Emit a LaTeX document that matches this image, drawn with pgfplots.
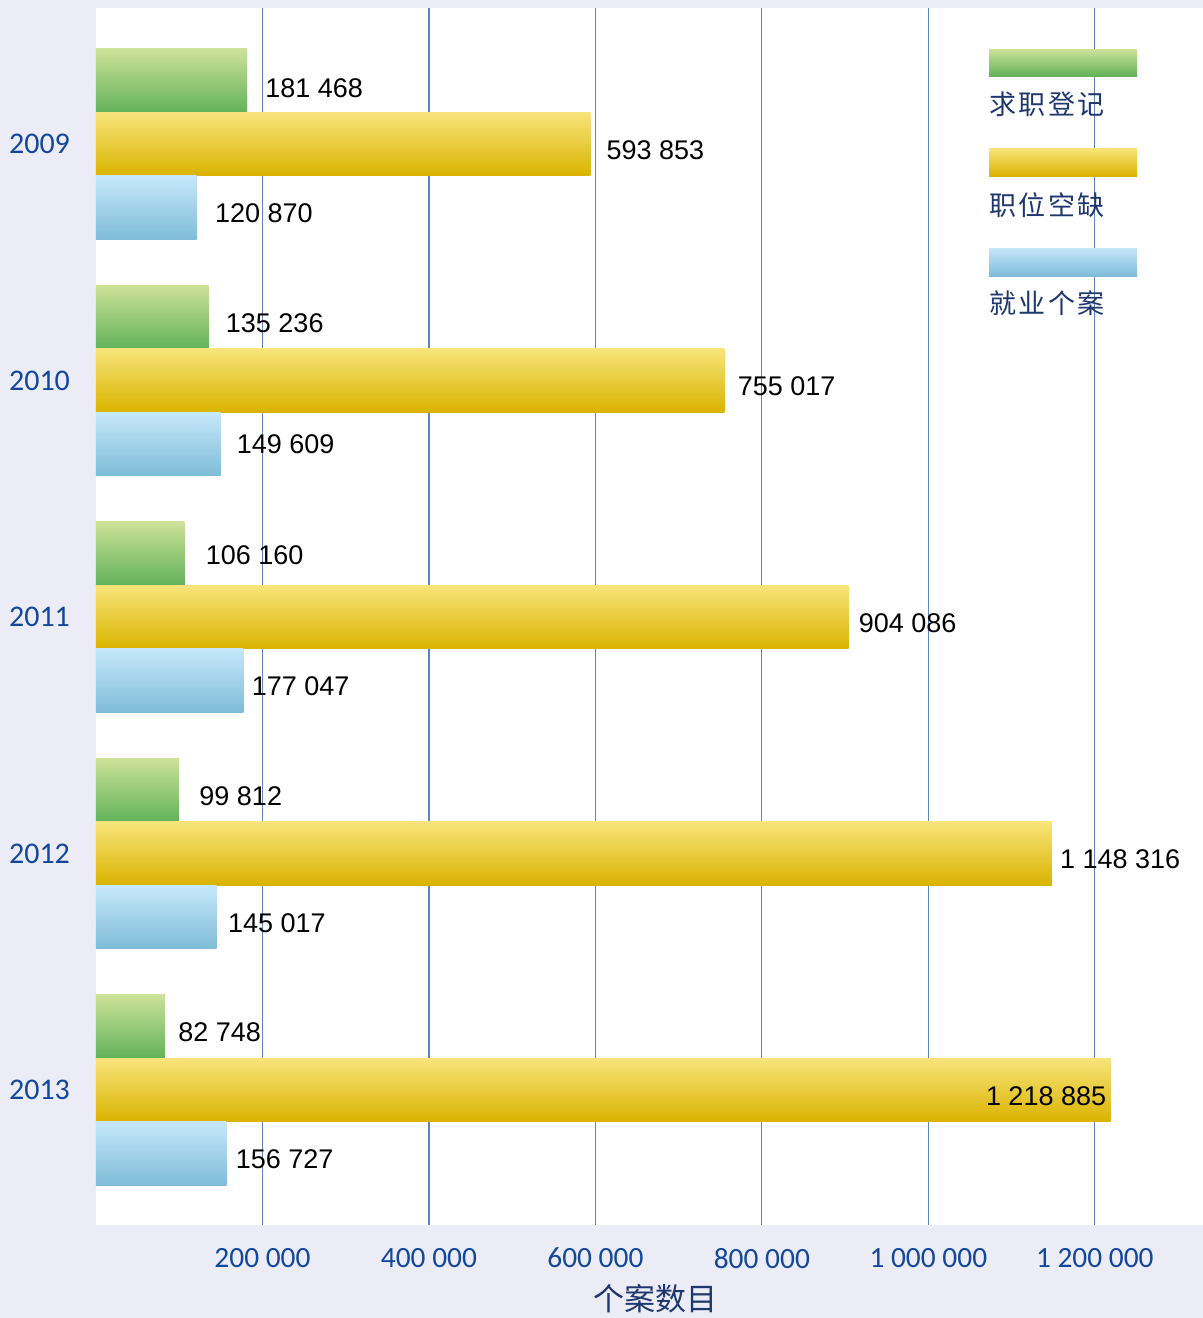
\documentclass[border=0pt]{standalone}
\usepackage{pgfplots}
\pgfplotsset{compat=1.18}
\usepackage{fontspec}
\setmainfont{Liberation Sans}
\newfontfamily\cjk{Noto Sans CJK SC}
\newfontfamily\carlito{Carlito}
\definecolor{bg}{RGB}{236,236,246}
\definecolor{gtop}{RGB}{205,226,152}
\definecolor{gbot}{RGB}{98,178,90}
\definecolor{ytop}{RGB}{248,228,122}
\definecolor{ybot}{RGB}{218,179,0}
\definecolor{btop}{RGB}{198,232,250}
\definecolor{bbot}{RGB}{126,188,216}
\definecolor{tickblue}{RGB}{18,72,156}
\definecolor{navy}{RGB}{30,55,110}
\definecolor{gridc}{RGB}{90,136,188}
\tikzset{lbl/.style={anchor=west, inner sep=0pt, font=\fontsize{13.5}{16}\selectfont, yshift=-3pt}}
\pgfplotsset{
  gbar/.style={xbar, bar width=31.75pt, bar shift=0pt, draw=none, top color=gtop, bottom color=gbot},
  ybar2/.style={xbar, bar width=31.75pt, bar shift=0pt, draw=none, top color=ytop, bottom color=ybot},
  bbar/.style={xbar, bar width=31.75pt, bar shift=0pt, draw=none, top color=btop, bottom color=bbot},
}

\begin{document}
\begin{tikzpicture}
\fill[bg] (0,0) rectangle (601.5pt,-659pt);
\useasboundingbox (0,0) rectangle (601.5pt,-659pt);
\begin{axis}[
  at={(48pt,-612.5pt)}, anchor=south west,
  scale only axis, width=553.5pt, height=608.5pt,
  xmin=0, xmax=1330000, ymin=-0.575, ymax=4.571, y dir=reverse,
  scaled x ticks=false,
  axis background/.style={fill=white},
  axis line style={draw=none}, major tick length=0pt,
  xmajorgrids, grid style={gridc, line width=0.6pt},
  xtick={200000,400000,600000,800000,1000000,1200000},
  xticklabels={200 000,400 000,600 000,800 000,1 000 000,1 200 000},
  xticklabel style={font=\carlito\fontsize{14.7}{18}\selectfont, text=tickblue, yshift=-8pt},
  ytick={0,1,2,3,4}, yticklabels={2009,2010,2011,2012,2013},
  yticklabel style={font=\carlito\fontsize{15}{18}\selectfont, text=tickblue, xshift=-9.5pt},
  xlabel={\cjk 个案数目},
  xlabel style={at={(axis description cs:0.505,0)}, anchor=center, yshift=-37pt,
    font=\cjk\fontsize{15.5}{18}\selectfont, text=navy},
  clip=false,
]
% 求职登记 (green), y = year index - 0.2685
\addplot[gbar] coordinates {(181468,-0.2685)};
\addplot[gbar] coordinates {(135236,0.7315)};
\addplot[gbar] coordinates {(106160,1.7315)};
\addplot[gbar] coordinates {(99812,2.7315)};
\addplot[gbar] coordinates {(82748,3.7315)};
% 职位空缺 (yellow)
\addplot[ybar2] coordinates {(593853,0)};
\addplot[ybar2] coordinates {(755017,1)};
\addplot[ybar2] coordinates {(904086,2)};
\addplot[ybar2] coordinates {(1148316,3)};
\addplot[ybar2] coordinates {(1218885,4)};
% 就业个案 (blue)
\addplot[bbar] coordinates {(120870,0.2685)};
\addplot[bbar] coordinates {(149609,1.2685)};
\addplot[bbar] coordinates {(177047,2.2685)};
\addplot[bbar] coordinates {(145017,3.2685)};
\addplot[bbar] coordinates {(156727,4.2685)};

\node[lbl, xshift=9pt, yshift=-1pt] at (axis cs:181468,-0.2685) {181 468};
\node[lbl, xshift=8pt] at (axis cs:593853,0) {593 853};
\node[lbl, xshift=9pt] at (axis cs:120870,0.2685) {120 870};
\node[lbl, xshift=8.5pt] at (axis cs:135236,0.7315) {135 236};
\node[lbl, xshift=6.5pt] at (axis cs:755017,1) {755 017};
\node[lbl, xshift=8pt, yshift=3pt] at (axis cs:149609,1.2685) {149 609};
\node[lbl, xshift=10.5pt, yshift=2pt] at (axis cs:106160,1.7315) {106 160};
\node[lbl, xshift=5pt] at (axis cs:904086,2) {904 086};
\node[lbl, xshift=4pt] at (axis cs:177047,2.2685) {177 047};
\node[lbl, xshift=10pt] at (axis cs:99812,2.7315) {99 812};
\node[lbl, xshift=4pt] at (axis cs:1148316,3) {1 148 316};
\node[lbl, xshift=5.5pt] at (axis cs:145017,3.2685) {145 017};
\node[lbl, xshift=6.5pt] at (axis cs:82748,3.7315) {82 748};
\node[lbl, anchor=east, xshift=-2pt] at (axis cs:1218885,4) {1 218 885};
\node[lbl, xshift=4.5pt] at (axis cs:156727,4.2685) {156 727};
\end{axis}
\begin{scope}[x=0.5pt, y=-0.5pt]
  \shade[top color=gtop, bottom color=gbot] (989,49) rectangle (1137,76);
  \shade[top color=ytop, bottom color=ybot] (989,148) rectangle (1137,176);
  \shade[top color=btop, bottom color=bbot] (989,248) rectangle (1137,276);
  \node[anchor=west, inner sep=0pt, text=navy, font=\cjk\fontsize{13.5}{16}\selectfont] at (989,104) {求\hspace{1.2pt}职\hspace{1.2pt}登\hspace{1.2pt}记};
  \node[anchor=west, inner sep=0pt, text=navy, font=\cjk\fontsize{13.5}{16}\selectfont] at (989,205) {职\hspace{1.2pt}位\hspace{1.2pt}空\hspace{1.2pt}缺};
  \node[anchor=west, inner sep=0pt, text=navy, font=\cjk\fontsize{13.5}{16}\selectfont] at (989,303) {就\hspace{1.2pt}业\hspace{1.2pt}个\hspace{1.2pt}案};
\end{scope}
\end{tikzpicture}
\end{document}
